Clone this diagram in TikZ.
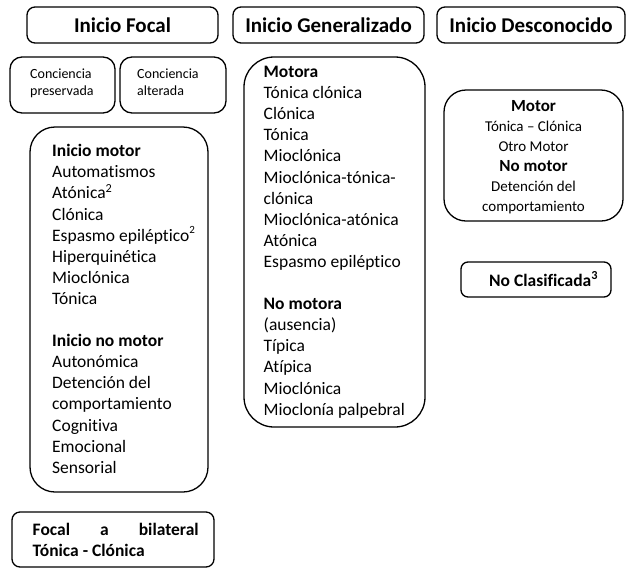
\documentclass[tikz,border=0pt]{standalone}
\usepackage{fontspec}
\setmainfont{Carlito}[Ligatures=NoCommon]
\begin{document}
\begin{tikzpicture}[x=1pt,y=-1pt,
  box/.style={draw, line width=1.3pt, inner sep=0pt},
  ttl/.style={box, rounded corners=8pt, minimum width=#1, minimum height=36pt,
    font=\bfseries\fontsize{21}{25}\selectfont},
  lst/.style={anchor=north west, inner sep=0pt, align=left,
    font=\fontsize{17.5}{21.1}\selectfont},
  small/.style={anchor=north west, inner sep=0pt, align=left,
    font=\fontsize{14}{17}\selectfont},
  ]
\useasboundingbox (0,0) rectangle (631,584);

% titles
\node[ttl=191pt] (tF) at (122.5,25) {Inicio Focal};
\node[ttl=191pt] (tG) at (328.5,25) {Inicio Generalizado};
\node[ttl=188pt] (tD) at (531,25) {Inicio Desconocido};

% conciencia boxes
\node[box, rounded corners=12pt, minimum width=105pt, minimum height=56pt] (cp) at (62.5,85) {};
\node[box, rounded corners=12pt, minimum width=106pt, minimum height=56pt] (ca) at (173,85) {};
\node[small] (cpt) at (30,66) {\rule{0pt}{12pt}Conciencia\\preservada};
\node[small] (cat) at (137,66) {\rule{0pt}{12pt}Conciencia\\alterada};

% focal list
\node[box, rounded corners=25pt, minimum width=178pt, minimum height=365pt] (fm) at (119,309.5) {};
\node[lst] (fmt) at (52,141.5) {\rule{0pt}{15pt}\textbf{Inicio motor}\\
Automatismos\\
Atónica\textsuperscript{2}\\
Clónica\\
Espasmo epiléptico\raisebox{8pt}{\fontsize{11}{11}\selectfont 2}\\
Hiperquinética\\
Mioclónica\\
Tónica\\[21.1pt]
\textbf{Inicio no motor}\\
Autonómica\\
Detención del\\
comportamiento\\
Cognitiva\\
Emocional\\
Sensorial};

% focal a bilateral
\node[box, rounded corners=8pt, minimum width=202pt, minimum height=55pt] (fb) at (113,539.5) {};
\node[lst, font=\bfseries\fontsize{17.5}{21}\selectfont] (fbt) at (32.5,520.7)
  {\rule{0pt}{15pt}\makebox[166pt][s]{Focal a bilateral}\\Tónica - Clónica};

% generalizado list
\node[box, rounded corners=30pt, minimum width=181pt, minimum height=370pt] (gm) at (334.5,242) {};
\node[lst] (gmt) at (263.5,62.3) {\rule{0pt}{15pt}\textbf{Motora}\\
Tónica clónica\\
Clónica\\
Tónica\\
Mioclónica\\
Mioclónica-tónica-\\
clónica\\
Mioclónica-atónica\\
Atónica\\
Espasmo epiléptico\\[21.1pt]
\textbf{No motora}\\
(ausencia)\\
Típica\\
Atípica\\
Mioclónica\\
Mioclonía palpebral};

% desconocido
\node[box, rounded corners=22pt, minimum width=179pt, minimum height=131pt] (dm) at (533.5,155.5) {};
\node[anchor=north, inner sep=0pt, align=center, font=\fontsize{15}{20}\selectfont] (dmt) at (533.5,96)
  {\rule{0pt}{15pt}{\bfseries\fontsize{17}{20}\selectfont Motor}\\
Tónica – Clónica\\
Otro Motor\\
{\bfseries\fontsize{17}{20}\selectfont No motor}\\
Detención del\\
comportamiento};

\node[box, rounded corners=7pt, minimum width=150pt, minimum height=35pt] (nc) at (536,279.5) {};
\node[anchor=base west, inner sep=0pt, font=\bfseries\fontsize{17.5}{21}\selectfont] (nct) at (489,286)
  {No Clasificada\textsuperscript{3}};
\end{tikzpicture}
\end{document}
